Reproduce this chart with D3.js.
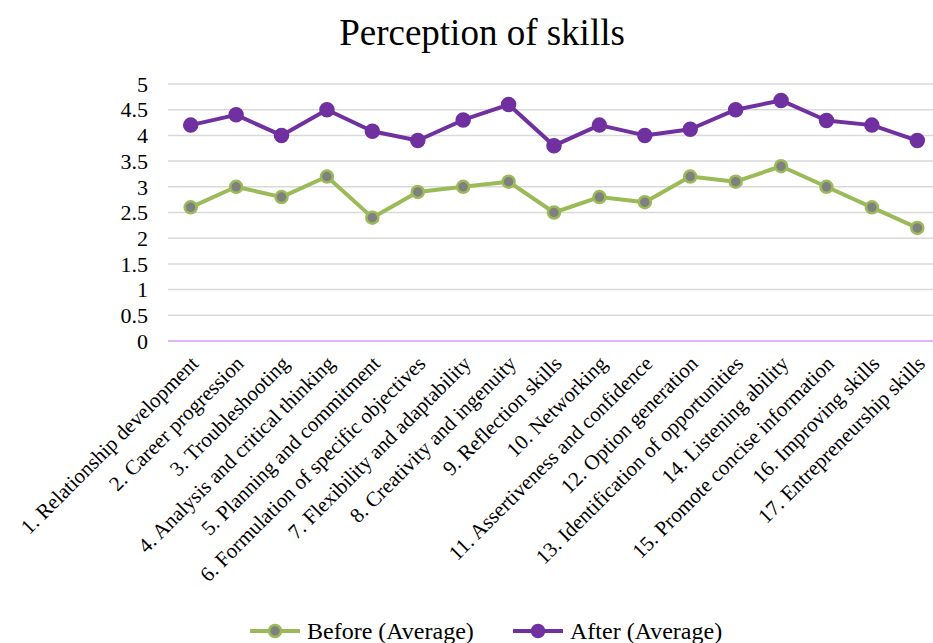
<!DOCTYPE html>
<html>
<head>
<meta charset="utf-8">
<script src="https://cdn.jsdelivr.net/npm/d3@7"></script>
<style>
  body { margin: 0; background: #fff; }
  text { font-family: "Liberation Serif", "Times New Roman", serif; fill: #000; }
</style>
</head>
<body>
<svg id="container" width="933" height="643"></svg>
<script>
const skills = [
  '1. Relationship development', '2. Career progression', '3. Troubleshooting',
  '4. Analysis and critical thinking', '5. Planning and commitment',
  '6. Formulation of specific objectives', '7. Flexibility and adaptability',
  '8. Creativity and ingenuity', '9. Reflection skills', '10. Networking',
  '11. Assertiveness and confidence', '12. Option generation',
  '13. Identification of opportunities', '14. Listening ability',
  '15. Promote concise information', '16. Improving skills',
  '17. Entrepreneurship skills'
]
const before = [2.6, 3.0, 2.8, 3.2, 2.4, 2.9, 3.0, 3.1, 2.5, 2.8, 2.7, 3.2, 3.1, 3.4, 3.0, 2.6, 2.2]
const after = [4.2, 4.4, 4.0, 4.5, 4.08, 3.9, 4.3, 4.6, 3.8, 4.2, 4.0, 4.12, 4.5, 4.68, 4.29, 4.2, 3.9]
const yTicks = [0, 0.5, 1, 1.5, 2, 2.5, 3, 3.5, 4, 4.5, 5]

const svg = d3.select('#container')

const xScale = d3.scaleBand().domain(skills).range([168, 940])
const yScale = d3.scaleLinear().domain([0, 5]).range([341, 84])
const cx = (d, i) => xScale(skills[i]) + xScale.bandwidth() / 2

// title
svg.append('text')
  .attr('x', 482).attr('y', 45)
  .attr('text-anchor', 'middle')
  .style('font-size', '37px')
  .text('Perception of skills')

// gridlines
svg.append('g')
  .selectAll('line')
  .data(yTicks.filter((t) => t > 0))
  .enter()
  .append('line')
  .attr('x1', 168).attr('x2', 933)
  .attr('y1', (d) => yScale(d)).attr('y2', (d) => yScale(d))
  .style('stroke', '#d9d9d9')
  .style('stroke-width', 1.5)

svg.append('line')
  .attr('x1', 168).attr('x2', 933)
  .attr('y1', yScale(0)).attr('y2', yScale(0))
  .style('stroke', '#d99cf2')
  .style('stroke-width', 1.5)

// y axis labels
const yAxis = d3.axisLeft(yScale).tickValues(yTicks).tickSize(0).tickPadding(0)
  .tickFormat((d) => String(d))
const yG = svg.append('g').attr('transform', 'translate(148,0)').call(yAxis)
yG.select('.domain').remove()
yG.selectAll('text')
  .style('font-family', '"Liberation Serif", serif')
  .style('font-size', '22px')
  .attr('dy', '0.33em')

// x labels
svg.append('g')
  .selectAll('text')
  .data(skills)
  .enter()
  .append('text')
  .attr('transform', (d) => `translate(${xScale(d) + xScale.bandwidth() / 2},356) rotate(-45)`)
  .attr('text-anchor', 'end')
  .attr('dy', '0.6em')
  .style('font-size', '21px')
  .text((d) => d)

const line = d3.line().x(cx).y((d) => yScale(d))

const drawSeries = (values, color, fill, r) => {
  svg.append('path')
    .datum(values)
    .attr('d', line)
    .style('fill', 'none')
    .style('stroke', color)
    .style('stroke-width', 4)
    .style('stroke-linejoin', 'round')
  svg.append('g')
    .selectAll('circle')
    .data(values)
    .enter()
    .append('circle')
    .attr('cx', cx)
    .attr('cy', (d) => yScale(d))
    .attr('r', r)
    .style('fill', fill)
    .style('stroke', color)
    .style('stroke-width', 2.5)
}

drawSeries(before, '#9bbb59', '#808080', 6)
drawSeries(after, '#7030a0', '#7030a0', 6.5)

// legend
const legend = [
  { name: 'Before (Average)', color: '#9bbb59', fill: '#808080', x: 250 },
  { name: 'After (Average)', color: '#7030a0', fill: '#7030a0', x: 513 }
]
const lg = svg.append('g')
  .selectAll('g')
  .data(legend)
  .enter()
  .append('g')
  .attr('transform', (d) => `translate(${d.x},631)`)
lg.append('line')
  .attr('x1', 0).attr('x2', 50)
  .style('stroke', (d) => d.color)
  .style('stroke-width', 4)
lg.append('circle')
  .attr('cx', 25).attr('r', 6)
  .style('fill', (d) => d.fill)
  .style('stroke', (d) => d.color)
  .style('stroke-width', 2.5)
lg.append('text')
  .attr('x', 57).attr('dy', '0.35em')
  .style('font-size', '24px')
  .text((d) => d.name)
</script>
</body>
</html>
